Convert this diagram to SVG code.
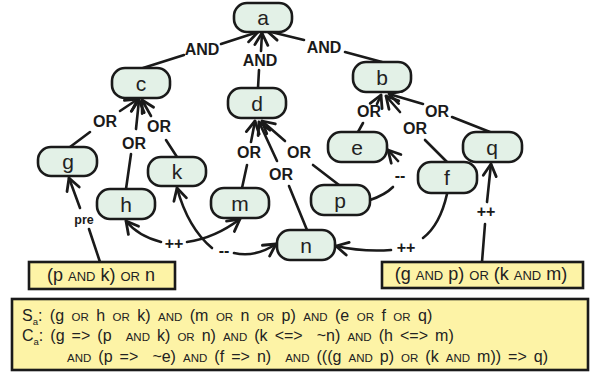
<svg xmlns="http://www.w3.org/2000/svg" width="594" height="375" viewBox="0 0 594 375">
<defs>
<style>
.node rect{fill:#e3f1e7;stroke:#1a1a1a;stroke-width:2.6}
.node text{font-family:"Liberation Sans",Arial,sans-serif;font-size:21px;fill:#222;text-anchor:middle}
.con path{fill:none;stroke:#1a1a1a;stroke-width:2.6;stroke-linecap:round}
.lbl{font-family:"Liberation Sans",Arial,sans-serif;font-weight:bold;font-size:16px;fill:#1a1a1a;text-anchor:middle}
.sm{font-size:12.5px}
.box{fill:#fdf3a6;stroke:#1a1a1a;stroke-width:2.6}
.bt{font-family:"Liberation Sans",Arial,sans-serif;font-size:18px;fill:#222}
.sc{font-size:13px}
.ft{font-family:"Liberation Sans",Arial,sans-serif;font-size:16px;fill:#222}
.fsc{font-size:11.5px}
</style>
<marker id="ar" markerUnits="userSpaceOnUse" markerWidth="30" markerHeight="30" viewBox="-15 -15 30 30" refX="0" refY="0" orient="auto-start-reverse">
<path d="M-12,-6.5 L0,0 L-12,6.5" fill="none" stroke="#1a1a1a" stroke-width="2.8" stroke-linecap="round" stroke-linejoin="round"/>
</marker>
</defs>
<rect width="594" height="375" fill="#fff"/>

<g id="connectors" class="con">
<path d="M143,68 L184,55"/><path d="M221,44 L258,32" marker-end="url(#ar)"/>
<path d="M258,88 L259,70"/><path d="M261,51 L262,33" marker-end="url(#ar)"/>
<path d="M382,62 L345,52"/><path d="M304,40 L267,31" marker-end="url(#ar)"/>
<path d="M70,147 L90,132"/><path d="M120,111 L138,99" marker-end="url(#ar)"/>
<path d="M126,189 L131,154"/><path d="M136,129 L139,100" marker-end="url(#ar)"/>
<path d="M177,157 L166,140"/><path d="M151,116 L142,100" marker-end="url(#ar)"/>
<path d="M242,188 L247,165"/><path d="M251,142 L255,121" marker-end="url(#ar)"/>
<path d="M307,230 L289,186"/><path d="M277,161 L259,122" marker-end="url(#ar)"/>
<path d="M339,185 L313,165"/><path d="M285,141 L262,121" marker-end="url(#ar)"/>
<path d="M358,132 L363,123"/><path d="M377,104 L381,95" marker-end="url(#ar)"/>
<path d="M447,162 L425,140"/><path d="M400,112 L386,96" marker-end="url(#ar)"/>
<path d="M490,132 L452,117"/><path d="M423,104 L389,94" marker-end="url(#ar)"/>
<path d="M100,262 L89,229"/><path d="M80,208 L69,178" marker-end="url(#ar)"/>
<path d="M161,242 Q138,236 126,221" marker-end="url(#ar)"/><path d="M187,242 Q215,238 240,219" marker-end="url(#ar)"/>
<path d="M212,248 Q188,228 177,188" marker-end="url(#ar)"/><path d="M234,253 Q255,258 276,244" marker-end="url(#ar)"/>
<path d="M370,200 Q385,195 393,187"/><path d="M398,161 L388,150" marker-end="url(#ar)"/>
<path d="M447,194 Q440,225 423,238"/><path d="M391,250 Q362,252 336,246" marker-end="url(#ar)"/>
<path d="M482,262 L485,224"/><path d="M487,202 L491,164" marker-end="url(#ar)"/>
<text class="lbl" x="202" y="55">AND</text>
<text class="lbl" x="260" y="66">AND</text>
<text class="lbl" x="324" y="53">AND</text>
<text class="lbl" x="105" y="127">OR</text>
<text class="lbl" x="134" y="149">OR</text>
<text class="lbl" x="159" y="132">OR</text>
<text class="lbl" x="249" y="158">OR</text>
<text class="lbl" x="281" y="180">OR</text>
<text class="lbl" x="299" y="158">OR</text>
<text class="lbl" x="369" y="117">OR</text>
<text class="lbl" x="415" y="134">OR</text>
<text class="lbl" x="437" y="117">OR</text>
<text class="lbl sm" x="84" y="224">pre</text>
<text class="lbl" x="174" y="249" font-size="15">++</text>
<text class="lbl" x="224" y="256" font-size="15">--</text>
<text class="lbl" x="400" y="181" font-size="15">--</text>
<text class="lbl" x="406" y="253" font-size="15">++</text>
<text class="lbl" x="486" y="217" font-size="12">++</text>
</g>

<g id="node-a" class="node"><rect x="234" y="3" width="58" height="29" rx="13"/><text x="263" y="25">a</text></g>
<g id="node-c" class="node"><rect x="112" y="68" width="58" height="30" rx="13"/><text x="141" y="91">c</text></g>
<g id="node-d" class="node"><rect x="228" y="88" width="58" height="30" rx="13"/><text x="257" y="111">d</text></g>
<g id="node-b" class="node"><rect x="353" y="62" width="58" height="30" rx="13"/><text x="382" y="85">b</text></g>
<g id="node-g" class="node"><rect x="38" y="147" width="59" height="29" rx="13"/><text x="68" y="169">g</text></g>
<g id="node-h" class="node"><rect x="97" y="189" width="58" height="30" rx="13"/><text x="126" y="212">h</text></g>
<g id="node-k" class="node"><rect x="148" y="157" width="58" height="29" rx="13"/><text x="177" y="179">k</text></g>
<g id="node-m" class="node"><rect x="211" y="188" width="58" height="30" rx="13"/><text x="240" y="211">m</text></g>
<g id="node-n" class="node"><rect x="277" y="230" width="58" height="30" rx="13"/><text x="306" y="253">n</text></g>
<g id="node-p" class="node"><rect x="311" y="185" width="59" height="30" rx="13"/><text x="340" y="208">p</text></g>
<g id="node-e" class="node"><rect x="328" y="132" width="59" height="30" rx="13"/><text x="357" y="155">e</text></g>
<g id="node-q" class="node"><rect x="463" y="132" width="59" height="30" rx="13"/><text x="492" y="155">q</text></g>
<g id="node-f" class="node"><rect x="418" y="162" width="59" height="31" rx="13"/><text x="447" y="185">f</text></g>

<g id="box-left"><rect class="box" x="29" y="262" width="146" height="27"/>
<text class="bt" x="101" y="281" text-anchor="middle">(p <tspan class="sc">AND</tspan> k) <tspan class="sc">OR</tspan> n</text></g>
<g id="box-right"><rect class="box" x="382" y="262" width="201" height="26"/>
<text class="bt" x="481" y="280" text-anchor="middle">(g <tspan class="sc">AND</tspan> p) <tspan class="sc">OR</tspan> (k <tspan class="sc">AND</tspan> m)</text></g>

<g id="formula"><rect class="box" x="12" y="299" width="576" height="71" stroke="#333" stroke-width="3"/>
<text class="ft" x="22" y="321" xml:space="preserve" word-spacing="3">S<tspan font-size="9.5" dy="4">a</tspan><tspan dy="-4">: (g </tspan><tspan class="fsc">OR</tspan> h <tspan class="fsc">OR</tspan> k) <tspan class="fsc">AND</tspan> (m <tspan class="fsc">OR</tspan> n <tspan class="fsc">OR</tspan> p) <tspan class="fsc">AND</tspan> (e <tspan class="fsc">OR</tspan> f <tspan class="fsc">OR</tspan> q)</text>
<text class="ft" x="22" y="341" xml:space="preserve" word-spacing="2.6">C<tspan font-size="9.5" dy="4">a</tspan><tspan dy="-4">: (g =&gt; (p  </tspan><tspan class="fsc">AND</tspan> k) <tspan class="fsc">OR</tspan> n) <tspan class="fsc">AND</tspan> (k &lt;=&gt;  ~n) <tspan class="fsc">AND</tspan> (h &lt;=&gt; m)</text>
<text class="ft" x="67" y="362" xml:space="preserve" word-spacing="2.6"><tspan class="fsc">AND</tspan> (p =&gt;  ~e) <tspan class="fsc">AND</tspan> (f =&gt; n)  <tspan class="fsc">AND</tspan> (((g <tspan class="fsc">AND</tspan> p) <tspan class="fsc">OR</tspan> (k <tspan class="fsc">AND</tspan> m)) =&gt; q)</text>
</g>
</svg>
